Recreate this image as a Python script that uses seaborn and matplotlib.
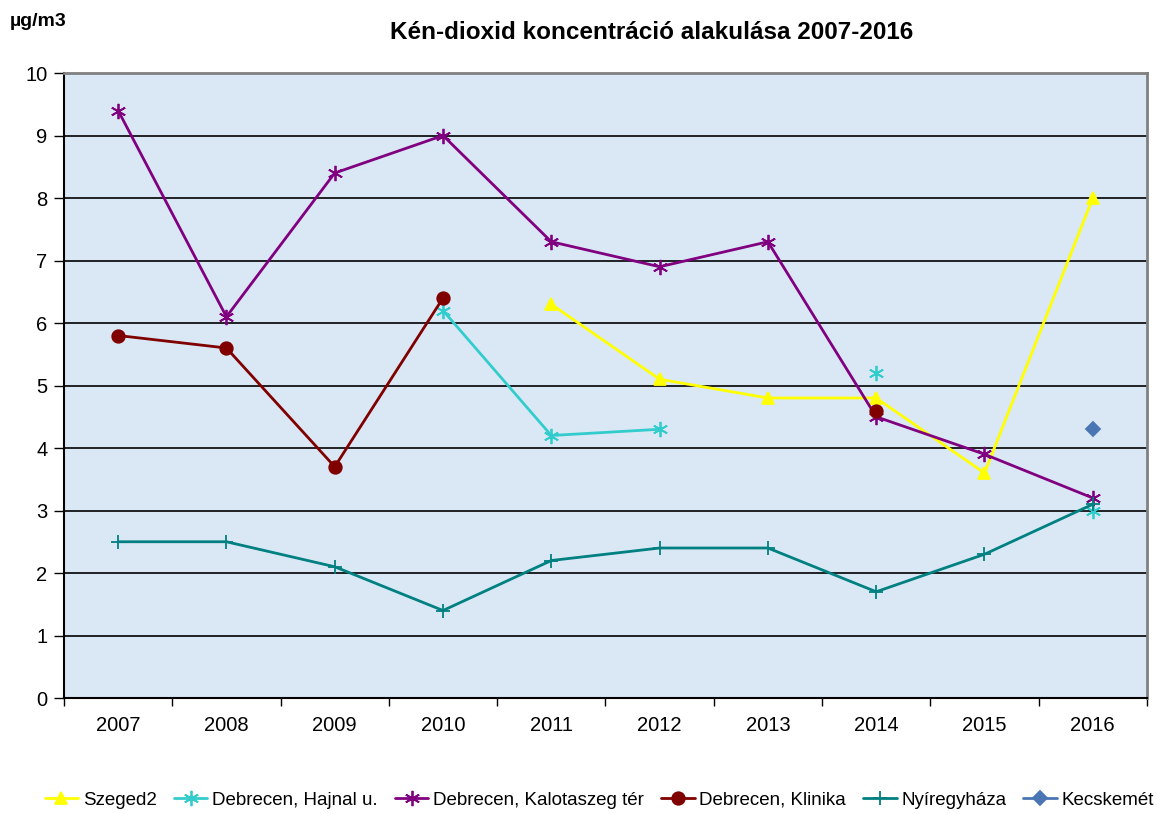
import numpy as np
import pandas as pd
import matplotlib
matplotlib.use('Agg')
import matplotlib.pyplot as plt
import seaborn as sns

# --- data ---
years = [2007, 2008, 2009, 2010, 2011, 2012, 2013, 2014, 2015, 2016]
nan = np.nan
szeged2 = [nan, nan, nan, nan, 6.3, 5.1, 4.8, 4.8, 3.6, 8.0]
hajnal = [nan, nan, nan, 6.2, 4.2, 4.3, nan, 5.2, nan, 3.0]
kalotaszeg = [9.4, 6.1, 8.4, 9.0, 7.3, 6.9, 7.3, 4.5, 3.9, 3.2]
klinika = [5.8, 5.6, 3.7, 6.4, nan, nan, nan, 4.6, nan, nan]
nyiregyhaza = [2.5, 2.5, 2.1, 1.4, 2.2, 2.4, 2.4, 1.7, 2.3, 3.1]
kecskemet = [nan, nan, nan, nan, nan, nan, nan, nan, nan, 4.3]

series = [
    ('Szeged2', szeged2, '#ffff00', '^', 9),
    ('Debrecen, Hajnal u.', hajnal, '#33cccc', (6, 2, 0), 11),
    ('Debrecen, Kalotaszeg tér', kalotaszeg, '#800080', (6, 2, 0), 11),
    ('Debrecen, Klinika', klinika, '#800000', 'o', 9),
    ('Nyíregyháza', nyiregyhaza, '#008080', '+', 10),
    ('Kecskemét', kecskemet, '#4a76b4', 'D', 7),
]

sns.set_style('white')
plt.rcParams['font.family'] = ['Liberation Sans', 'DejaVu Sans']
plt.rcParams['text.color'] = 'black'
plt.rcParams['xtick.color'] = 'black'
plt.rcParams['ytick.color'] = 'black'

fig = plt.figure(figsize=(11.57, 8.14), dpi=100)
ax = fig.add_axes([0.0553, 0.1425, 0.936, 0.7678])
ax.set_facecolor('#dae8f6')

pos = np.arange(len(years))
handles = []
for name, vals, color, marker, ms in series:
    df = pd.DataFrame({'x': pos, 'y': vals})
    # split into contiguous runs so gaps are not bridged
    run_id = df['y'].isna().cumsum()
    valid = df.dropna()
    for _, seg in valid.groupby(run_id[valid.index]):
        sns.lineplot(data=seg, x='x', y='y', ax=ax, color=color, lw=2,
                     marker=marker, markersize=ms, markeredgecolor=color,
                     markeredgewidth=1.3, legend=False, zorder=3)
    h, = ax.plot([], [], color=color, lw=2, marker=marker, markersize=ms,
                 markeredgecolor=color, markeredgewidth=1.3)
    handles.append((h, name))

ax.set_xlim(-0.5, len(years) - 0.5)
ax.set_ylim(0, 10)
ax.set_yticks(range(0, 11))
ax.set_xticks(pos)
ax.set_xticklabels([str(y) for y in years])
ax.set_xticks(np.arange(-0.5, len(years), 1), minor=True)
ax.tick_params(axis='x', which='major', length=0, labelsize=14.5, pad=13)
ax.tick_params(axis='x', which='minor', length=6, width=1, color='black',
               direction='out', bottom=True)
ax.tick_params(axis='y', length=7, width=1, color='black', direction='out',
               left=True, labelsize=14.5, pad=5)
ax.yaxis.grid(True, color='black', lw=1.2)
ax.set_axisbelow(True)
ax.set_xlabel('')
ax.set_ylabel('')

for side in ['left', 'bottom']:
    ax.spines[side].set_color('black')
    ax.spines[side].set_linewidth(1.5)
for side in ['top', 'right']:
    ax.spines[side].set_color('#808080')
    ax.spines[side].set_linewidth(2)

fig.text(0.5635, 0.96, 'Kén-dioxid koncentráció alakulása 2007-2016',
         ha='center', va='center', fontsize=17.5, fontweight='bold')
fig.text(0.008, 0.974, 'µg/m3', ha='left', va='center', fontsize=14,
         fontweight='bold')

fig.legend([h for h, _ in handles], [n for _, n in handles],
           loc='center', bbox_to_anchor=(0.518, 0.017), ncol=6, frameon=False,
           fontsize=13.5, handlelength=1.8, handletextpad=0.25,
           columnspacing=0.9)

fig.savefig('out.png', dpi=100)
